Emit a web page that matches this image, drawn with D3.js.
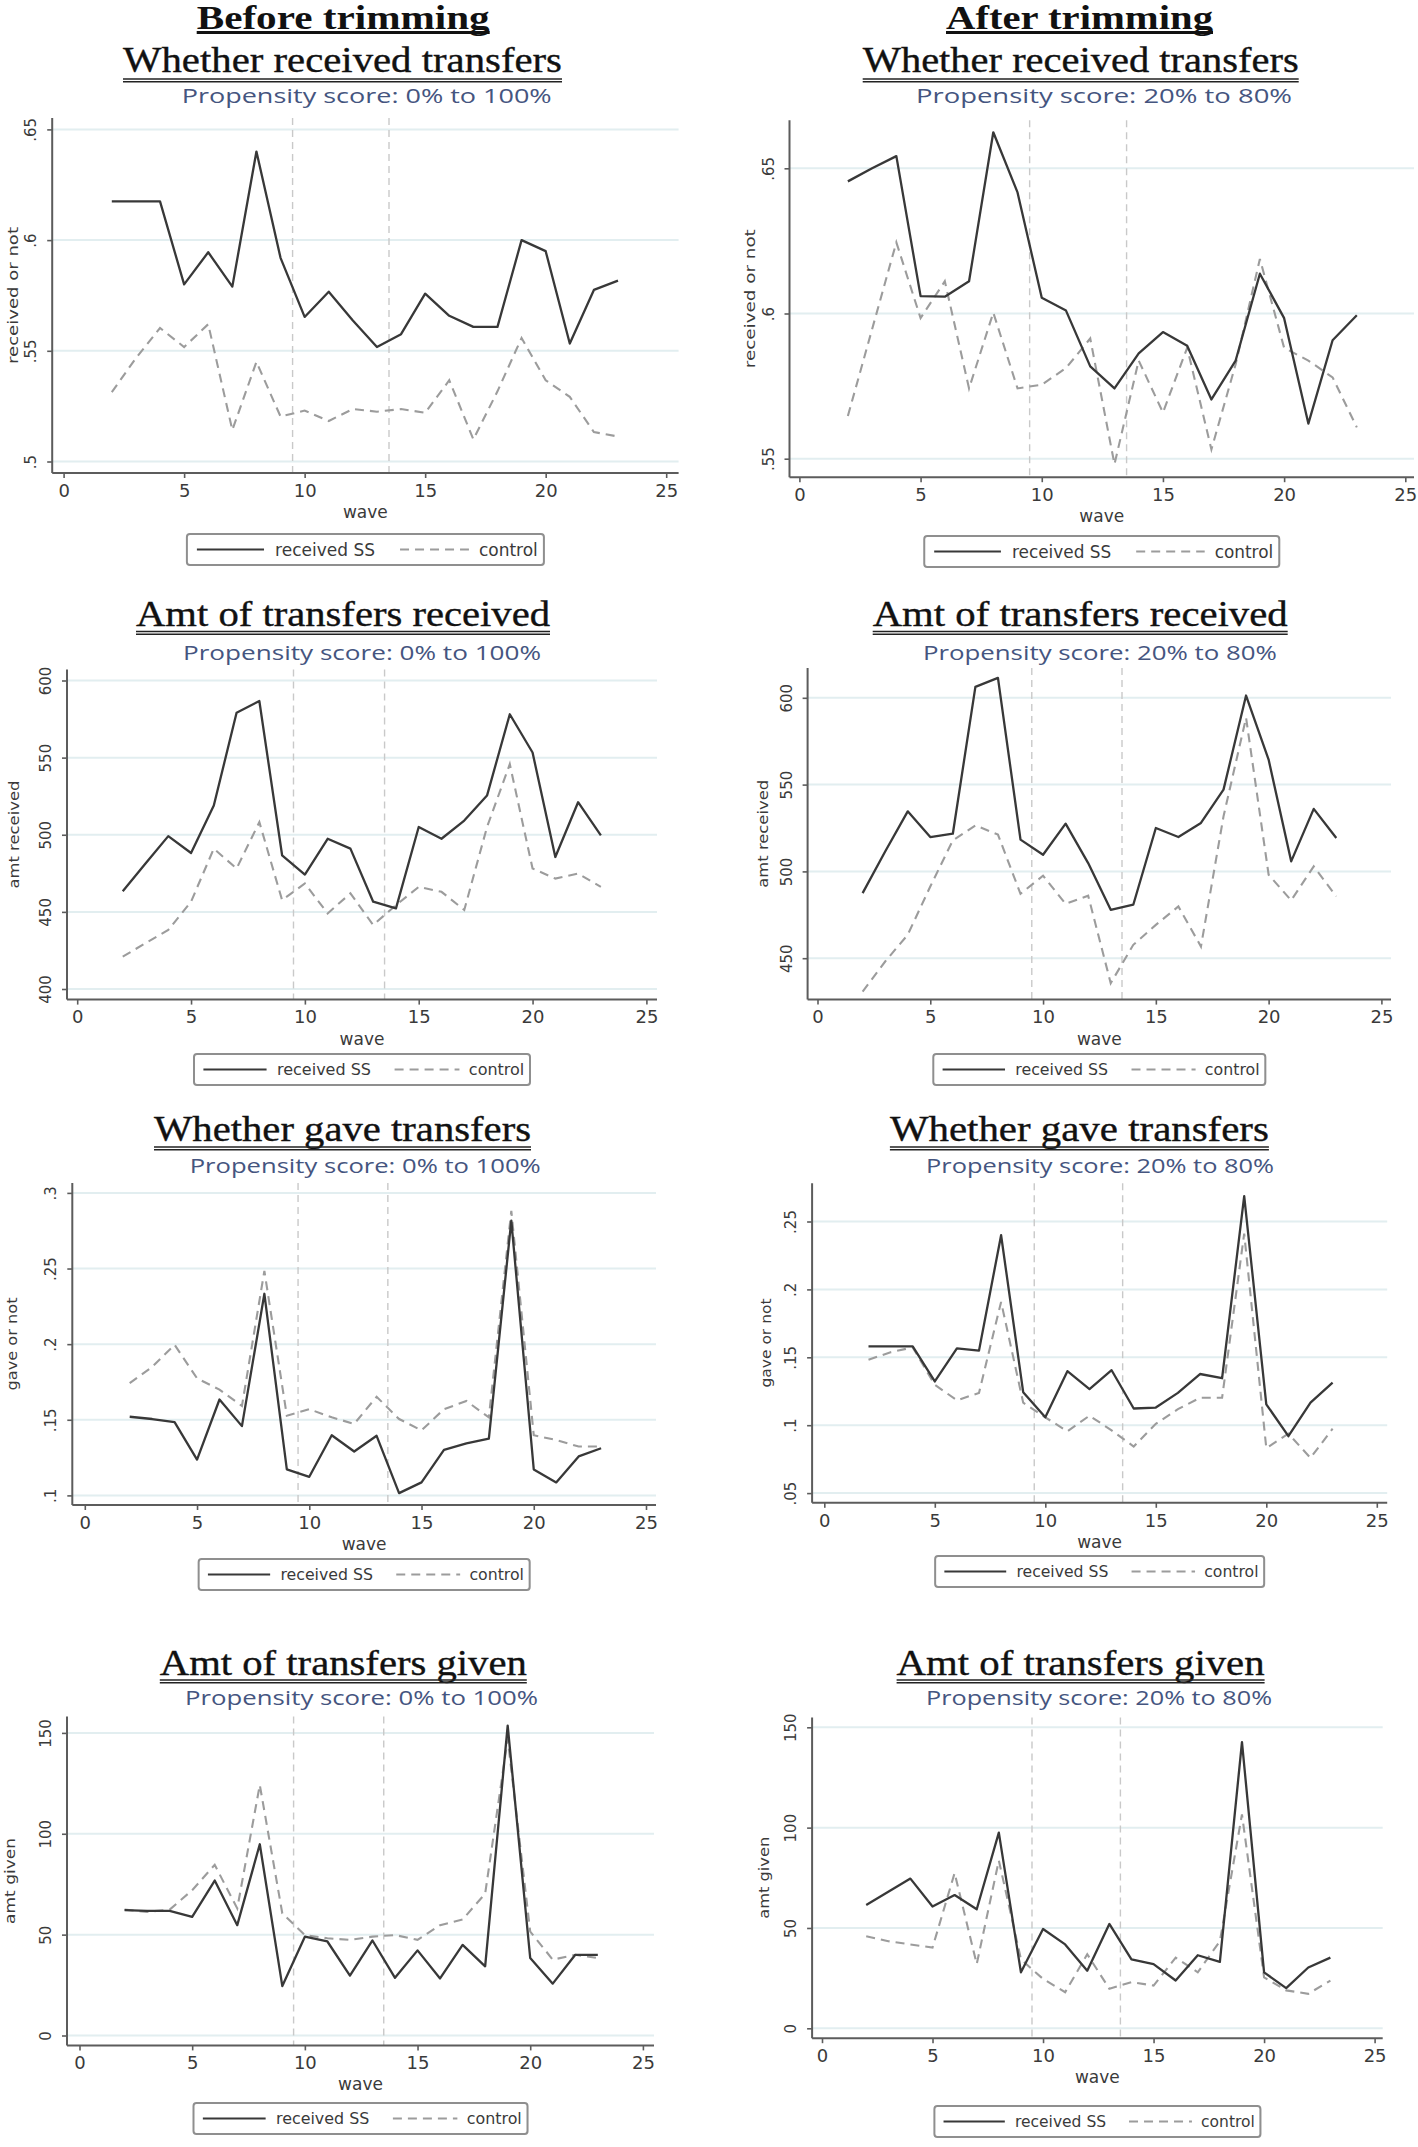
<!DOCTYPE html>
<html><head><meta charset="utf-8">
<script src="https://cdn.jsdelivr.net/npm/d3@7"></script>
<style>body{margin:0;background:#fff;} svg{display:block;}</style>
</head><body>
<svg id="chart" width="1418" height="2147"></svg>
<script>
// ---------------- DATA ----------------
const waves = [2,3,4,5,6,7,8,9,10,11,12,13,14,15,16,17,18,19,20,21,22,23];
const xTicks = [0,5,10,15,20,25];
const xTickLabels = ["0","5","10","15","20","25"];
const refLines = [9.5, 13.5];
const legendLabels = ["received SS", "control"];
const columnHeaders = ["Before trimming", "After trimming"];
const panelTitles = ["Whether received transfers", "Amt of transfers received", "Whether gave transfers", "Amt of transfers given"];
const subtitles = ["Propensity score: 0% to 100%", "Propensity score: 20% to 80%"];
const yAxisTitles = ["received or not", "amt received", "gave or not", "amt given"];
const xAxisTitle = "wave";

const recvWhetherBeforeSS   = [.6175,.6175,.6175,.580,.5945,.579,.640,.592,.5653,.5767,.5637,.5517,.5575,.5758,.5658,.5608,.5608,.600,.595,.5533,.5775,.5817];
const recvWhetherBeforeCtrl = [.5313,.5467,.5603,.5517,.562,.5142,.545,.5203,.523,.5183,.5237,.5225,.5237,.522,.5367,.510,.5317,.5558,.5367,.5292,.5133,.5113];
const recvWhetherAfterSS    = [.6455,.650,.6542,.606,.6058,.6111,.6624,.6417,.6054,.601,.5818,.5742,.5863,.5936,.5889,.5704,.5838,.6137,.5984,.5621,.5908,.5994];
const recvWhetherAfterCtrl  = [.5647,.5946,.6245,.5984,.6111,.5742,.6003,.5742,.5755,.5812,.5914,.5481,.5838,.5659,.5882,.5532,.5825,.6188,.5882,.5838,.578,.5608];

const amtRecvBeforeSS   = [463.4,481.3,499.1,488.2,518.9,579.1,586.7,486.7,474.2,497.4,491,456.6,452.3,505,497.4,509.2,525.4,578.1,553.3,485.6,521.1,499.6];
const amtRecvBeforeCtrl = [421,429.7,438.3,456.6,491,478.1,508.2,457.6,468.4,449,462,441.5,454.4,466.2,463,451.2,505,545.8,478.1,471.6,474.8,466.2];
const amtRecvAfterSS    = [487.5,511.5,534.6,519.8,521.7,606.3,611.5,518.3,509.6,527.5,504.8,477.9,480.8,525,519.8,527.9,547.1,601.3,564.4,505.8,536,519.2];
const amtRecvAfterCtrl  = [430.8,448.1,463.5,491.3,517.9,526.5,521.2,487.1,497.5,481.3,486,435.6,457.7,469.2,479.8,456.7,531.7,588.5,498.1,483.3,502.9,485.6];

const gaveWhetherBeforeSS   = [.152,.1505,.1484,.1237,.1634,.1458,.2333,.1172,.1123,.1398,.129,.1394,.1015,.1086,.1301,.1344,.1376,.2817,.1172,.1086,.1258,.1312];
const gaveWhetherBeforeCtrl = [.1742,.1849,.1996,.1774,.1699,.1591,.2484,.1527,.157,.1516,.1473,.1652,.1505,.143,.157,.1624,.1516,.2882,.1398,.1366,.1323,.1323];
const gaveWhetherAfterSS    = [.158,.158,.158,.1322,.1566,.1549,.2399,.1243,.1058,.1398,.1266,.1405,.1123,.113,.1238,.1377,.1346,.2687,.1154,.0919,.1166,.1314];
const gaveWhetherAfterCtrl  = [.1482,.1537,.1573,.1298,.1183,.1238,.1908,.1166,.1058,.0955,.107,.0962,.0843,.101,.1118,.1202,.1202,.2411,.0831,.0938,.0759,.0974];

const amtGivenBeforeSS   = [62.1,61.8,61.8,58.8,76.8,54.7,94.8,24.5,49,46.6,29.7,47.1,28.6,42.2,28.3,44.9,34.3,153.6,38.4,25.7,40,40];
const amtGivenBeforeCtrl = [62.4,61.3,62.4,72,84.6,63,124.2,60.5,49.8,48.2,47.4,49,49.8,47.4,54.7,57.5,70.3,147.1,51.5,37.6,40,38.4];
const amtGivenAfterSS    = [61.5,68,74.6,60.7,66.4,59.3,97.5,27.9,49.5,41.8,28.7,52,34.4,32,23.8,36.4,33.1,142.6,27.9,20,30.3,35.2];
const amtGivenAfterCtrl  = [45.9,43.4,41.8,40.2,77.4,32,83.6,34.4,24.6,18,36.9,19.7,23,21.3,35.2,27.9,43.4,106.6,25.4,18.9,17.2,23.8];

const ticksRecvWhetherBefore = [.5,.55,.6,.65];
const labelsRecvWhetherBefore = [".5",".55",".6",".65"];
const ticksRecvWhetherAfter = [.55,.6,.65];
const labelsRecvWhetherAfter = [".55",".6",".65"];
const ticksAmtRecvBefore = [400,450,500,550,600];
const labelsAmtRecvBefore = ["400","450","500","550","600"];
const ticksAmtRecvAfter = [450,500,550,600];
const labelsAmtRecvAfter = ["450","500","550","600"];
const ticksGaveWhetherBefore = [.1,.15,.2,.25,.3];
const labelsGaveWhetherBefore = [".1",".15",".2",".25",".3"];
const ticksGaveWhetherAfter = [.05,.1,.15,.2,.25];
const labelsGaveWhetherAfter = [".05",".1",".15",".2",".25"];
const ticksAmtGiven = [0,50,100,150];
const labelsAmtGiven = ["0","50","100","150"];

// ---------------- PANEL DEFINITIONS ----------------
const panels = [
  {row:0,col:0, ss:recvWhetherBeforeSS, ctrl:recvWhetherBeforeCtrl, yTicks:ticksRecvWhetherBefore, yLabels:labelsRecvWhetherBefore},
  {row:0,col:1, ss:recvWhetherAfterSS, ctrl:recvWhetherAfterCtrl, yTicks:ticksRecvWhetherAfter, yLabels:labelsRecvWhetherAfter},
  {row:1,col:0, ss:amtRecvBeforeSS, ctrl:amtRecvBeforeCtrl, yTicks:ticksAmtRecvBefore, yLabels:labelsAmtRecvBefore},
  {row:1,col:1, ss:amtRecvAfterSS, ctrl:amtRecvAfterCtrl, yTicks:ticksAmtRecvAfter, yLabels:labelsAmtRecvAfter},
  {row:2,col:0, ss:gaveWhetherBeforeSS, ctrl:gaveWhetherBeforeCtrl, yTicks:ticksGaveWhetherBefore, yLabels:labelsGaveWhetherBefore},
  {row:2,col:1, ss:gaveWhetherAfterSS, ctrl:gaveWhetherAfterCtrl, yTicks:ticksGaveWhetherAfter, yLabels:labelsGaveWhetherAfter},
  {row:3,col:0, ss:amtGivenBeforeSS, ctrl:amtGivenBeforeCtrl, yTicks:ticksAmtGiven, yLabels:labelsAmtGiven},
  {row:3,col:1, ss:amtGivenAfterSS, ctrl:amtGivenAfterCtrl, yTicks:ticksAmtGiven, yLabels:labelsAmtGiven}
];

// ---------------- LAYOUT (positions only) ----------------
const layouts = [
  {x0:63.6, x25:666.2, yLo:461.5, yHi:129.4, axisX:52.2, axisTop:118, axisY:473, axisRight:678.6,
   tL:123, tW:439, sL:181.7, sW:370, yTx:18, yTl:137, legTop:534, legW:357},
  {x0:799.4, x25:1405.3, yLo:458.7, yHi:168.3, axisX:789.5, axisTop:120.2, axisY:477.2, axisRight:1414,
   tL:862.7, tW:436, sL:916, sW:376, yTx:755, yTl:139, legTop:536, legW:355},
  {x0:77.2, x25:646.4, yLo:989, yHi:680.5, axisX:67, axisTop:669.6, axisY:999.6, axisRight:657,
   tL:136, tW:414, sL:183, sW:358, yTx:19, yTl:108, legTop:1054, legW:336},
  {x0:817.5, x25:1381.4, yLo:958.2, yHi:697.8, axisX:807.6, axisTop:668, axisY:999.6, axisRight:1391,
   tL:872.7, tW:415, sL:922.9, sW:354, yTx:768, yTl:108, legTop:1054, legW:332},
  {x0:84.8, x25:646, yLo:1495.4, yHi:1192.9, axisX:72.3, axisTop:1183, axisY:1505, axisRight:656,
   tL:154, tW:377, sL:189.7, sW:351, yTx:17, yTl:93, legTop:1559, legW:331},
  {x0:824.3, x25:1376.8, yLo:1493.1, yHi:1221.5, axisX:812.1, axisTop:1183.2, axisY:1502.8, axisRight:1387.2,
   tL:889.9, tW:379, sL:926, sW:348, yTx:771, yTl:89, legTop:1556, legW:329},
  {x0:79.5, x25:642.9, yLo:2035.5, yHi:1732.9, axisX:67, axisTop:1716.4, axisY:2045.4, axisRight:654,
   tL:159.8, tW:367, sL:185, sW:353, yTx:15, yTl:86, legTop:2103, legW:334},
  {x0:822, x25:1374.6, yLo:2028.3, yHi:1727.3, axisX:812.1, axisTop:1717.4, axisY:2038.2, axisRight:1382.7,
   tL:896.6, tW:368, sL:926, sW:346, yTx:769, yTl:82, legTop:2106, legW:326}
];
const rowText = [
  {tBase:72, ul:79, sBase:103},
  {tBase:626, ul:631.5, sBase:660},
  {tBase:1141, ul:1147, sBase:1173},
  {tBase:1674.5, ul:1680, sBase:1705}
];
const headerLayout = [{left:196.7, w:293, base:29, ul:32.5}, {left:946, w:267, base:29, ul:32.5}];

// ---------------- STYLE ----------------
const C = {solid:"#383838", dash:"#9c9c9c", grid:"#e2eef0", ref:"#c9c9c9", axis:"#5c5c5c", text:"#3a3a3a", sub:"#45557f", title:"#111"};
const SANS = "'DejaVu Sans', Verdana, sans-serif";
const SERIF = "'Liberation Serif', 'Times New Roman', serif";

const svg = d3.select("#chart");
svg.append("rect").attr("width",1418).attr("height",2147).attr("fill","#fff");

// column headers
headerLayout.forEach((h,i) => {
  svg.append("text").attr("x",h.left).attr("y",h.base)
    .attr("font-family",SERIF).attr("font-weight","bold").attr("font-size",34)
    .attr("fill",C.title).attr("textLength",h.w).attr("lengthAdjust","spacingAndGlyphs")
    .text(columnHeaders[i]);
  svg.append("line").attr("x1",h.left).attr("x2",h.left+h.w).attr("y1",h.ul).attr("y2",h.ul)
    .attr("stroke","#111").attr("stroke-width",3);
});

panels.forEach((p, idx) => {
  const L = layouts[idx];
  const R = rowText[p.row];
  const g = svg.append("g");
  const yt = p.yTicks;
  const x = d3.scaleLinear().domain([0,25]).range([L.x0, L.x25]);
  const y = d3.scaleLinear().domain([yt[0], yt[yt.length-1]]).range([L.yLo, L.yHi]);

  // title with double underline
  g.append("text").attr("x",L.tL).attr("y",R.tBase)
    .attr("font-family",SERIF).attr("font-size",35).attr("fill",C.title)
    .attr("stroke",C.title).attr("stroke-width",0.35)
    .attr("textLength",L.tW).attr("lengthAdjust","spacingAndGlyphs")
    .text(panelTitles[p.row]);
  [0,2.8].forEach(off => g.append("line").attr("x1",L.tL).attr("x2",L.tL+L.tW)
    .attr("y1",R.ul+off).attr("y2",R.ul+off).attr("stroke","#222").attr("stroke-width",1.4));
  // subtitle
  g.append("text").attr("x",L.sL).attr("y",R.sBase)
    .attr("font-family","'Open Sans', sans-serif").attr("font-size",20.5).attr("fill",C.sub)
    .attr("textLength",L.sW).attr("lengthAdjust","spacingAndGlyphs")
    .text(subtitles[p.col]);

  // gridlines
  g.selectAll("line.grid").data(yt).join("line").attr("class","grid")
    .attr("x1",L.axisX).attr("x2",L.axisRight).attr("y1",d=>y(d)).attr("y2",d=>y(d))
    .attr("stroke",C.grid).attr("stroke-width",2);
  // reference lines
  g.selectAll("line.ref").data(refLines).join("line").attr("class","ref")
    .attr("x1",d=>x(d)).attr("x2",d=>x(d)).attr("y1",L.axisTop).attr("y2",L.axisY)
    .attr("stroke",C.ref).attr("stroke-width",1.4).attr("stroke-dasharray","7,5");

  // axes
  const xa = g.append("g").attr("transform",`translate(0,${L.axisY})`)
    .call(d3.axisBottom(x).tickValues(xTicks).tickFormat((d,i)=>xTickLabels[i]).tickSize(5).tickPadding(6));
  xa.select(".domain").remove();
  xa.selectAll("line").attr("stroke",C.axis).attr("stroke-width",1.6);
  xa.selectAll("text").attr("font-family",SANS).attr("font-size",18).attr("fill",C.text);

  const ya = g.append("g").attr("transform",`translate(${L.axisX},0)`)
    .call(d3.axisLeft(y).tickValues(yt).tickFormat((d,i)=>p.yLabels[i]).tickSize(5));
  ya.select(".domain").remove();
  ya.selectAll("line").attr("stroke",C.axis).attr("stroke-width",1.6);
  ya.selectAll("text").attr("x",null).attr("dy",null)
    .attr("transform","translate(-16,0) rotate(-90)").attr("text-anchor","middle")
    .attr("font-family",SANS).attr("font-size",15).attr("fill",C.text);

  g.append("line").attr("x1",L.axisX).attr("x2",L.axisX).attr("y1",L.axisTop).attr("y2",L.axisY)
    .attr("stroke",C.axis).attr("stroke-width",2);
  g.append("line").attr("x1",L.axisX).attr("x2",L.axisRight).attr("y1",L.axisY).attr("y2",L.axisY)
    .attr("stroke",C.axis).attr("stroke-width",2);

  // axis titles
  g.append("text").attr("x",(L.axisX+L.axisRight)/2).attr("y",L.axisY+45)
    .attr("text-anchor","middle").attr("font-family",SANS).attr("font-size",17).attr("fill",C.text)
    .text(xAxisTitle);
  const cy = (L.axisTop+L.axisY)/2;
  g.append("text").attr("transform",`translate(${L.yTx},${cy}) rotate(-90)`)
    .attr("text-anchor","middle").attr("font-family",SANS).attr("font-size",14.5).attr("fill",C.text)
    .attr("textLength",L.yTl).attr("lengthAdjust","spacingAndGlyphs")
    .text(yAxisTitles[p.row]);

  // series lines
  const line = d3.line().x((d,i)=>x(waves[i])).y(d=>y(d));
  g.append("path").datum(p.ctrl).attr("d",line).attr("fill","none")
    .attr("stroke",C.dash).attr("stroke-width",2.1).attr("stroke-dasharray","9,6");
  g.append("path").datum(p.ss).attr("d",line).attr("fill","none")
    .attr("stroke",C.solid).attr("stroke-width",2.3).attr("stroke-linejoin","round");

  // legend
  const w = L.legW, h = 31;
  const lx = (L.axisX+L.axisRight)/2 - w/2, ly = L.legTop;
  const lg = g.append("g").attr("transform",`translate(${lx},${ly})`);
  lg.append("rect").attr("x",1).attr("y",1).attr("width",w).attr("height",h).attr("rx",3)
    .attr("fill","#e8e8e8");
  lg.append("rect").attr("width",w).attr("height",h).attr("rx",3)
    .attr("fill","#fff").attr("stroke","#8f8f8f").attr("stroke-width",2);
  const fs = 17*w/357;
  const items = [
    {a:0.028,b:0.216,t:0.247,style:"solid"},
    {a:0.597,b:0.790,t:0.818,style:"dash"}
  ];
  items.forEach((it,i) => {
    lg.append("line").attr("x1",it.a*w).attr("x2",it.b*w).attr("y1",h/2).attr("y2",h/2)
      .attr("stroke", it.style==="solid"?C.solid:C.dash).attr("stroke-width",2.2)
      .attr("stroke-dasharray", it.style==="solid"?null:"9,6");
    lg.append("text").attr("x",it.t*w).attr("y",h/2+fs*0.36)
      .attr("font-family",SANS).attr("font-size",fs).attr("fill",C.text)
      .text(legendLabels[i]);
  });
});
</script>
</body></html>
